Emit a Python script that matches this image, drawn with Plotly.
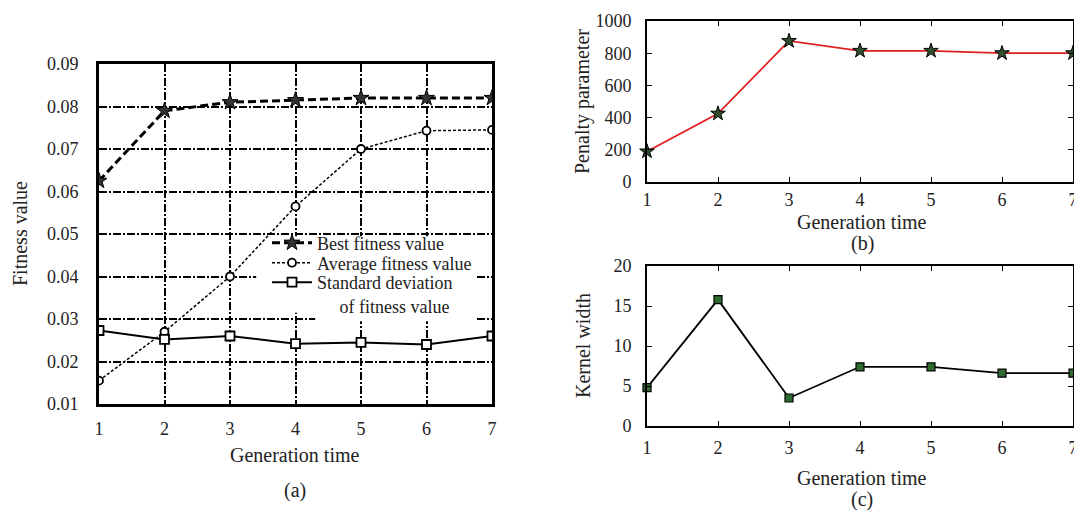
import plotly.graph_objects as go

# ---------------- data ----------------
generations = [1, 2, 3, 4, 5, 6, 7]
best_fitness = [0.0625, 0.079, 0.081, 0.0815, 0.082, 0.082, 0.082]
avg_fitness = [0.0155, 0.027, 0.040, 0.0565, 0.070, 0.0743, 0.0745]
std_fitness = [0.0273, 0.0252, 0.026, 0.0242, 0.0245, 0.024, 0.026]
penalty_param = [190, 425, 876, 815, 815, 800, 800]
kernel_width = [4.8, 15.8, 3.5, 7.4, 7.4, 6.6, 6.6]

fit_ticks = [0.01, 0.02, 0.03, 0.04, 0.05, 0.06, 0.07, 0.08, 0.09]
pen_ticks = [0, 200, 400, 600, 800, 1000]
ker_ticks = [0, 5, 10, 15, 20]

# the page body has an 8px margin: size the figure so it ends at the window edge
OFF = 8
W, H = 1082 - OFF, 511 - OFF
FONT = "Liberation Serif, Times New Roman, serif"
TXT = "#222"

def px(x):
    return (x - OFF) / W

def py(y):
    return 1 - (y - OFF) / H

fig = go.Figure()

# ---- panel (a) ----
fig.add_trace(go.Scatter(
    x=generations, y=best_fitness, mode="lines+markers", name="Best fitness value",
    line=dict(color="black", width=3, dash="8px,4px"),
    marker=dict(symbol="star", size=12, color="#333", line=dict(color="black", width=1)),
    xaxis="x", yaxis="y", legend="legend"))
fig.add_trace(go.Scatter(
    x=generations, y=avg_fitness, mode="lines+markers", name="Average fitness value",
    line=dict(color="black", width=1.5, dash="3px,2px"),
    marker=dict(symbol="circle", size=8, color="white", line=dict(color="black", width=1.8)),
    xaxis="x", yaxis="y", legend="legend2"))
fig.add_trace(go.Scatter(
    x=generations, y=std_fitness, mode="lines+markers",
    name="Standard deviation<br>\u00a0\u00a0\u00a0\u00a0\u00a0of fitness value",
    line=dict(color="black", width=2),
    marker=dict(symbol="square", size=9, color="white", line=dict(color="black", width=1.8)),
    xaxis="x", yaxis="y", legend="legend3"))

# ---- panel (b) ----
fig.add_trace(go.Scatter(
    x=generations, y=penalty_param, mode="lines+markers", showlegend=False,
    line=dict(color="#e02020", width=1.8),
    marker=dict(symbol="star", size=11, color="#2f4f2f", line=dict(color="black", width=1)),
    xaxis="x2", yaxis="y2", cliponaxis=False))

# ---- panel (c) ----
fig.add_trace(go.Scatter(
    x=generations, y=kernel_width, mode="lines+markers", showlegend=False,
    line=dict(color="black", width=1.8),
    marker=dict(symbol="square", size=8, color="#2e6b2e", line=dict(color="black", width=1.2)),
    xaxis="x3", yaxis="y3", cliponaxis=False))

tickfont = dict(family=FONT, size=18, color=TXT)
grid_a = dict(showgrid=True, gridcolor="black", gridwidth=2, griddash="8px,2px,2px,2px")
common = dict(automargin=False, zeroline=False, tickfont=tickfont, linecolor="black")
small_ax = dict(showline=True, linewidth=2, mirror="ticks", ticks="inside", ticklen=5,
                tickcolor="black", showgrid=False, **common)

legfont = dict(family=FONT, size=18, color=TXT)
leg_common = dict(xanchor="left", bgcolor="rgba(0,0,0,0)", borderwidth=0,
                  font=legfont, itemwidth=40)

fig.update_layout(
    width=W, height=H,
    margin=dict(l=0, r=0, t=0, b=0),
    paper_bgcolor="white", plot_bgcolor="white",
    font=dict(family=FONT, size=18, color=TXT),
    xaxis=dict(domain=[px(99), px(492)], range=[1, 7], tickvals=generations,
               showline=True, linewidth=3, mirror=True, ticks="",
               ticklabelstandoff=6, anchor="y", **grid_a, **common),
    yaxis=dict(domain=[py(404), py(64)], range=[0.01, 0.09], tickvals=fit_ticks,
               tickformat=".2f", showline=True, linewidth=3, mirror=True, ticks="",
               ticklabelstandoff=14, anchor="x", **grid_a, **common),
    xaxis2=dict(domain=[px(647), px(1073)], range=[1, 7], tickvals=generations,
                ticklabelstandoff=0, anchor="y2", **small_ax),
    yaxis2=dict(domain=[py(182), py(21)], range=[0, 1000], tickvals=pen_ticks,
                ticklabelstandoff=10, anchor="x2", **small_ax),
    xaxis3=dict(domain=[px(647), px(1073)], range=[1, 7], tickvals=generations,
                ticklabelstandoff=4, anchor="y3", **small_ax),
    yaxis3=dict(domain=[py(426), py(266)], range=[0, 20], tickvals=ker_ticks,
                ticklabelstandoff=10, anchor="x3", **small_ax),
    legend=dict(x=px(267), y=py(243), yanchor="middle", **leg_common),
    legend2=dict(x=px(267), y=py(263), yanchor="middle", **leg_common),
    legend3=dict(x=px(267), y=py(264), yanchor="top", valign="top", **leg_common),
    showlegend=True,
)

# white area behind the legend in panel (a)
fig.add_shape(type="rect", xref="x", yref="y", x0=3.4, x1=6.75, y0=0.0315, y1=0.0495,
              fillcolor="white", line=dict(width=0), layer="between")
fig.add_shape(type="rect", xref="x", yref="y", x0=4.3, x1=6.75, y0=0.0295, y1=0.0316,
              fillcolor="white", line=dict(width=0), layer="between")

titlefont = dict(family=FONT, size=20, color=TXT)
ann = [
    dict(text="Fitness value", x=px(20), y=py(234), textangle=-90),
    dict(text="Generation time", x=px(295), y=py(455)),
    dict(text="(a)", x=px(295), y=py(490)),
    dict(text="Penalty parameter", x=px(583), y=py(102), textangle=-90),
    dict(text="Generation time", x=px(862), y=py(222)),
    dict(text="(b)", x=px(862), y=py(243)),
    dict(text="Kernel width", x=px(583), y=py(346), textangle=-90),
    dict(text="Generation time", x=px(862), y=py(478)),
    dict(text="(c)", x=px(862), y=py(499)),
]
for a in ann:
    fig.add_annotation(xref="paper", yref="paper", showarrow=False,
                       xanchor="center", yanchor="middle", font=titlefont, **a)

fig.write_html("out.html")
